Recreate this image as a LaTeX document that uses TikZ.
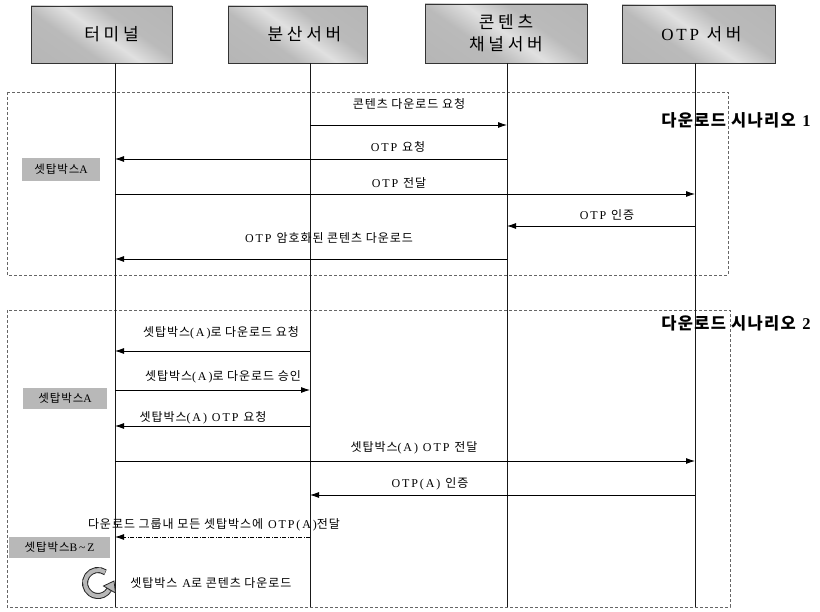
\documentclass[tikz,border=0pt]{standalone}
\usepackage{fontspec}
\setmainfont{Liberation Serif}[LetterSpace=16]
\newfontfamily\kr[LetterSpace=8]{Noto Sans CJK KR}
\newfontfamily\krh[LetterSpace=22]{Noto Sans CJK KR}
\usetikzlibrary{arrows.meta}
\newcommand\K[1]{{\kr #1}}
\pgfdeclarehorizontalshading{streak}{100bp}{color(0bp)=(black!30); color(38bp)=(black!27); color(50bp)=(black!12); color(62bp)=(black!27); color(100bp)=(black!30)}
\tikzset{
  hdr/.style={draw=black!80, line width=.7pt, shade, shading=streak, shading angle=55, inner sep=0pt, align=center, font=\fontsize{17}{22}\selectfont\krh},
  life/.style={line width=.8pt, black!90},
  msg/.style={line width=.8pt, -{Latex[length=9pt,width=6pt]}},
  dmsg/.style={msg, dash pattern=on 4pt off 1.5pt on 1pt off 1.5pt},
  lbl/.style={inner sep=0pt, font=\fontsize{12}{14}\selectfont},
  grp/.style={draw=black!60, dash pattern=on 3pt off 2pt, line width=.5pt},
  stb/.style={fill=black!28, inner sep=0pt, font=\fontsize{11.5}{13}\selectfont},
  scen/.style={inner sep=0pt, font=\fontsize{16.5}{19}\selectfont\bfseries},
  ringout/.style={line width=6pt, black!85},
  ringin/.style={line width=4pt, black!28}
}
\begin{document}
\begin{tikzpicture}[x=1pt,y=-1pt]
\useasboundingbox (0,0) rectangle (820,612);
% group boxes
\draw[grp] (7,92) rectangle (728,275);
\draw[grp] (7,310) rectangle (730,607);
% headers
\node[hdr, minimum width=141pt, minimum height=57pt] (t) at (101.5,34.5) {\hspace*{20pt}터미널};
\node[hdr, minimum width=139pt, minimum height=57pt] (d) at (297.5,34.5) {\hspace*{14pt}분산서버};
\node[hdr, minimum width=162pt, minimum height=59pt] (c) at (506,33.5) {콘텐츠\\채널서버};
\node[hdr, minimum width=153pt, minimum height=58pt] (o) at (698.5,34) {\hspace*{6pt}{\rmfamily OTP} 서버};
% lifelines
\coordinate (Lt) at (115,63); \coordinate (Ltb) at (115,607);
\coordinate (Ld) at (310,63); \coordinate (Ldb) at (310,607);
\coordinate (Lc) at (507,63); \coordinate (Lcb) at (507,607);
\coordinate (Lo) at (695,63); \coordinate (Lob) at (695,607);
\draw[life] (Lt) -- (Ltb);
\draw[life] (Ld) -- (Ldb);
\draw[life] (Lc) -- (Lcb);
\draw[life] (Lo) -- (Lob);
% scenario labels
\node[scen] (s1) at (736,120) {\K{다운로드 시나리오} 1};
\node[scen] (s2) at (736,323) {\K{다운로드 시나리오} 2};
% set-top boxes
\node[stb, minimum width=78pt, minimum height=23pt] (b1) at (61,169.5) {\K{셋탑박스}A};
\node[stb, minimum width=84pt, minimum height=21pt] (b2) at (65,398.5) {\K{셋탑박스}A};
\node[stb, minimum width=101pt, minimum height=21pt] (b3) at (59.5,547.5) {\K{셋탑박스}B\textasciitilde Z};
% scenario 1 messages
\draw[msg] (Ld|-0,125) -- (Lc|-0,125);
\node[lbl] (l1) at (409,104) {\K{콘텐츠 다운로드 요청}};
\draw[msg] (Lc|-0,159) -- (Lt|-0,159);
\node[lbl] (l2) at (398,147) {OTP \K{요청}};
\draw[msg] (Lt|-0,194) -- (Lo|-0,194);
\node[lbl] (l3) at (399,183) {OTP \K{전달}};
\draw[msg] (Lo|-0,226) -- (Lc|-0,226);
\node[lbl] (l4) at (607,215) {OTP \K{인증}};
\draw[msg] (Lc|-0,259) -- (Lt|-0,259);
\node[lbl] (l5) at (329,238) {OTP \K{암호화된 콘텐츠 다운로드}};
% scenario 2 messages
\draw[msg] (Ld|-0,351) -- (Lt|-0,351);
\node[lbl] (m1) at (221,333) {\K{셋탑박스}(A)\K{로 다운로드 요청}};
\draw[msg] (Lt|-0,390) -- (Ld|-0,390);
\node[lbl] (m2) at (223,377) {\K{셋탑박스}(A)\K{로 다운로드 승인}};
\draw[msg] (Ld|-0,426) -- (Lt|-0,426);
\node[lbl] (m3) at (203,418) {\K{셋탑박스}(A) OTP \K{요청}};
\draw[msg] (Lt|-0,461) -- (Lo|-0,461);
\node[lbl] (m4) at (414,448) {\K{셋탑박스}(A) OTP \K{전달}};
\draw[msg] (Lo|-0,495) -- (Ld|-0,495);
\node[lbl] (m5) at (430,484) {OTP(A) \K{인증}};
\draw[dmsg] (Ld|-0,537) -- (Lt|-0,537);
\node[lbl] (m6) at (214,525) {\K{다운로드 그룹내 모든 셋탑박스에} OTP(A)\K{전달}};
% self loop (y axis points down: negative angles are above)
\coordinate (loop) at (98,583);
\draw[ringout] (loop) ++(-55:13) arc[start angle=-55, end angle=-330, radius=13];
\draw[ringin] (loop) ++(-57:13) arc[start angle=-57, end angle=-328, radius=13];
\filldraw[fill=black!28, draw=black!85, line width=.8pt, line join=miter] (103.5,586) -- (115.5,593) -- (114,581) -- cycle;
\node[lbl] (m7) at (211,583) {\K{셋탑박스} A\K{로 콘텐츠 다운로드}};
\end{tikzpicture}
\end{document}
